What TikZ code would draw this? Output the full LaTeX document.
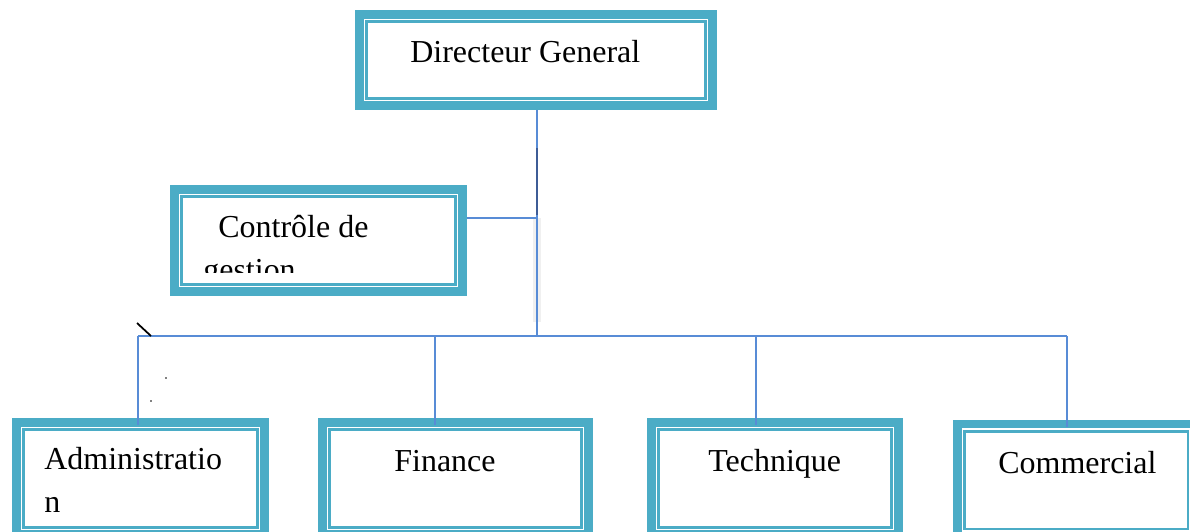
\documentclass[tikz,border=0pt]{standalone}
\usepackage{fontspec}
\setmainfont{Liberation Serif}
\usepackage{tikz}
\usetikzlibrary{calc}
\definecolor{frame}{RGB}{75,172,198}
\definecolor{linkblue}{RGB}{88,140,214}
\definecolor{linkdark}{RGB}{62,92,150}
\newcommand{\postfont}{\fontsize{18.2}{24.5}\selectfont}
\tikzset{
postbox/.style={ % Sets the properties for each post (thick frame and thin inner line)
draw=frame,
line width=0.17cm,
fill=white,
inner sep=0pt,
path picture={\draw[frame, line width=0.05cm]
([shift={(7.2,7.2)}]path picture bounding box.north west) rectangle
([shift={(-7.2,-7.2)}]path picture bounding box.south east);}},
posttext/.style={ % Text of a post, set from its baseline
font=\postfont,
anchor=base west,
inner sep=0pt},
link/.style={ % Lines of the chart
draw=linkblue,
line width=0.03cm}}

\begin{document}
\begin{tikzpicture}[x=0.02cm, y=-0.02cm]
\useasboundingbox (0,0) rectangle (1190,531);
\coordinate (hub) at (537,336);
\fill[black!6] (533,218) rectangle (541,322);
% posts
\node[postbox, minimum width=7.07cm, minimum height=1.83cm] (dg) at (536,60) {};
\node[postbox, minimum width=5.77cm, minimum height=2.05cm] (cg) at (318.5,240.5) {};
\node[postbox, minimum width=4.97cm, minimum height=2.245cm] (admin) at (140.5,478.4) {};
\node[postbox, minimum width=5.33cm, minimum height=2.245cm] (fin) at (455.5,478.4) {};
\node[postbox, minimum width=4.95cm, minimum height=2.245cm] (tech) at (775,478.4) {};
\node[postbox, minimum width=4.755cm, minimum height=2.24cm] (com) at (1076.1,480.1) {};
% texts
\node[posttext] (dgtext) at (410,62) {Directeur General};
\begin{scope}
\clip (cg.north west) rectangle ([shift={(0,-23)}]cg.south east);
\node[posttext] (cgtext) at (218,237) {Contrôle de};
\node[posttext] (cgtext2) at (203,280) {gestion};
\end{scope}
\node[posttext] (admintext) at (44,469) {Administratio};
\node[posttext] (admintext2) at (44,512) {n};
\node[posttext] (fintext) at (394,471) {Finance};
\node[posttext] (techtext) at (708,471) {Technique};
\node[posttext] (comtext) at (998,473) {Commercial};
% lines
\draw[link] (dg.south -| hub) -- (hub);
\draw[link] (cg.east |- 0,218) -- (hub |- 0,218);
\draw[linkdark, line width=0.045cm] (hub |- 0,148) -- (hub |- 0,215);
\draw[link] (hub -| 138,0) -- (hub -| 1067,0);
\foreach \n/\x in {admin/138, fin/435, tech/756, com/1067}
  \draw[link] (hub -| \x,0) -- ($(\n.north -| \x,0)+(0,7)$);
% stray marks
\draw[line width=0.035cm] (137,323) -- (151,336);
\fill (166,378) circle[radius=0.5pt];
\fill (151,401) circle[radius=0.5pt];
\end{tikzpicture}
\end{document}
